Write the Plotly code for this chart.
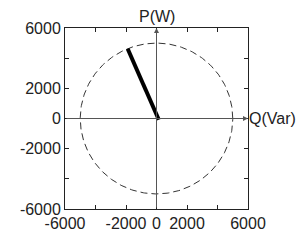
import numpy as np
import plotly.graph_objects as go

# data
tick_vals = [-6000, -4000, -2000, 0, 2000, 4000, 6000]
x_tick_text = ["-6000", "", "-2000", "0", "2000", "", "6000"]
y_tick_text = ["-6000", "", "-2000", "0", "2000", "", "6000"]
circle_radius = 5000
vector_q = [150, -1890]
vector_p = [-80, 4620]

theta = np.linspace(0, 2 * np.pi, 361)
cx = circle_radius * np.cos(theta)
cy = circle_radius * np.sin(theta)

fig = go.Figure()
fig.add_trace(go.Scatter(x=cx, y=cy, mode="lines",
                         line=dict(color="#333333", width=1, dash="7px,4px"),
                         hoverinfo="skip"))
fig.add_trace(go.Scatter(x=vector_q, y=vector_p, mode="lines",
                         line=dict(color="black", width=4), hoverinfo="skip"))

fig.add_annotation(x=0, y=6000, ax=0, ay=-6000, xref="x", yref="y", axref="x", ayref="y",
                   showarrow=True, arrowhead=2, arrowsize=1, arrowwidth=1,
                   arrowcolor="#555555", text="")
fig.add_annotation(x=6000, y=0, ax=-6000, ay=0, xref="x", yref="y", axref="x", ayref="y",
                   showarrow=True, arrowhead=2, arrowsize=1, arrowwidth=1,
                   arrowcolor="#555555", text="")
fig.add_annotation(x=0, y=6000, xref="x", yref="y", text="P(W)", showarrow=False,
                   yanchor="bottom", yshift=1, font=dict(size=16, color="#222222"))
fig.add_annotation(x=6000, y=0, xref="x", yref="y", text="Q(Var)", showarrow=False,
                   xanchor="left", xshift=-1, font=dict(size=16, color="#222222"))

axis_common = dict(range=[-6000, 6000], tickvals=tick_vals, ticks="inside", ticklen=4,
                   tickcolor="#222222", showline=True, linecolor="#222222", linewidth=1,
                   mirror="ticks", showgrid=False, zeroline=False, automargin=False,
                   tickfont=dict(size=16, color="#222222"))
fig.update_xaxes(ticktext=x_tick_text, **axis_common)
fig.update_yaxes(ticktext=y_tick_text, **axis_common)

fig.update_layout(width=302, height=241, showlegend=False,
                  margin=dict(l=65, r=54, t=28, b=32),
                  paper_bgcolor="white", plot_bgcolor="white",
                  font=dict(family="Liberation Sans, Arial, sans-serif"))
fig.write_html("out.html", config={"displayModeBar": False},
               post_script="document.body.style.margin='0';document.body.style.overflow='hidden';")
